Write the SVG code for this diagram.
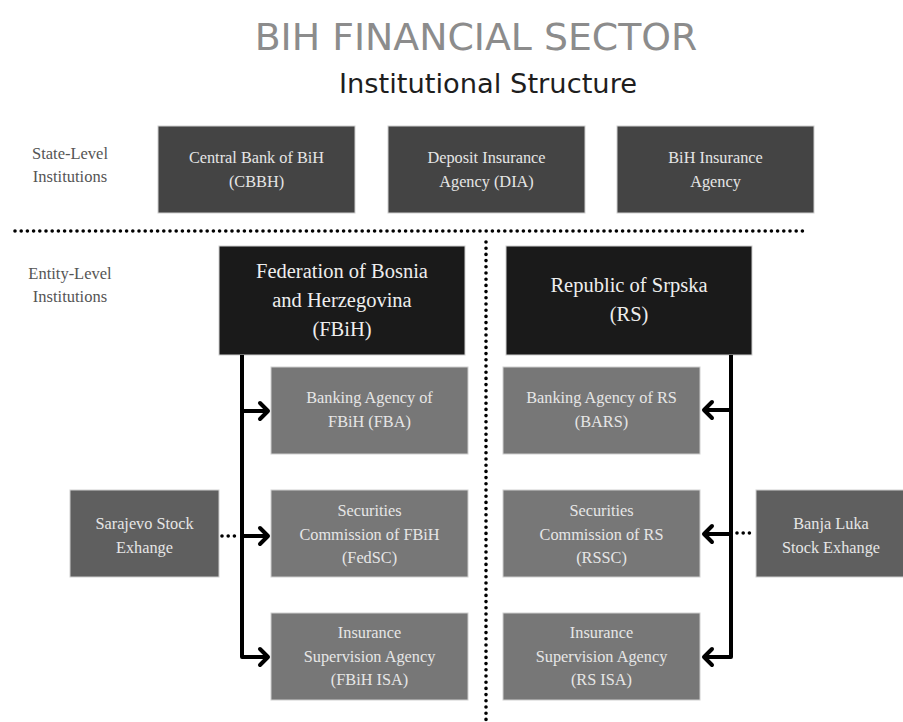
<svg xmlns="http://www.w3.org/2000/svg" width="903" height="722" viewBox="0 0 903 722">
  <defs>
    <style>
      .title { font-family: "DejaVu Sans", "Noto Sans", sans-serif; font-size: 37.8px; fill: #8c8c8c; text-anchor: middle; }
      .subtitle { font-family: "DejaVu Sans", "Noto Sans", sans-serif; font-size: 27.3px; fill: #1e1e1e; text-anchor: middle; }
      .side { font-family: "Liberation Serif", serif; font-size: 16.5px; fill: #555555; text-anchor: middle; }
      .lbl { font-family: "Liberation Serif", serif; font-size: 16.3px; fill: #e6e6e6; text-anchor: middle; }
      .big { font-family: "Liberation Serif", serif; font-size: 20.5px; fill: #eeeeee; text-anchor: middle; }
      .state { fill: #444444; stroke: #cfcfcf; stroke-width: 1; }
      .entity { fill: #1a1a1a; stroke: #cfcfcf; stroke-width: 1; }
      .agency { fill: #777777; stroke: #cfcfcf; stroke-width: 1; }
      .exch { fill: #5f5f5f; stroke: #cfcfcf; stroke-width: 1; }
      .dots { fill: none; stroke: #000; stroke-width: 3.6; stroke-linecap: round; stroke-dasharray: 0 6.2; }
      .link { fill: none; stroke: #000; stroke-width: 4; stroke-linejoin: round; }
      .head { fill: none; stroke: #000; stroke-width: 4; stroke-linecap: round; stroke-linejoin: round; }
    </style>
  </defs>

  <rect width="903" height="722" fill="#ffffff"/>

  <text class="title" x="476" y="50">BIH FINANCIAL SECTOR</text>
  <text class="subtitle" x="488" y="93">Institutional Structure</text>

  <g id="label-state">
    <text class="side" x="70" y="159">State-Level</text>
    <text class="side" x="70" y="182">Institutions</text>
  </g>
  <g id="label-entity">
    <text class="side" x="70" y="279">Entity-Level</text>
    <text class="side" x="70" y="302">Institutions</text>
  </g>

  <!-- state-level row -->
  <g id="cbbh">
    <rect class="state" x="158" y="126" width="197" height="87"/>
    <text class="lbl" x="256.5" y="163">Central Bank of BiH</text>
    <text class="lbl" x="256.5" y="187">(CBBH)</text>
  </g>
  <g id="dia">
    <rect class="state" x="388" y="126" width="197" height="87"/>
    <text class="lbl" x="486.5" y="163">Deposit Insurance</text>
    <text class="lbl" x="486.5" y="187">Agency (DIA)</text>
  </g>
  <g id="bih-insurance">
    <rect class="state" x="617" y="126" width="197" height="87"/>
    <text class="lbl" x="715.5" y="163">BiH Insurance</text>
    <text class="lbl" x="715.5" y="187">Agency</text>
  </g>

  <!-- entity heads -->
  <g id="fbih">
    <rect class="entity" x="219" y="246" width="246" height="109"/>
    <text class="big" x="342" y="278">Federation of Bosnia</text>
    <text class="big" x="342" y="307">and Herzegovina</text>
    <text class="big" x="342" y="336">(FBiH)</text>
  </g>
  <g id="rs">
    <rect class="entity" x="506" y="246" width="246" height="109"/>
    <text class="big" x="629" y="292">Republic of Srpska</text>
    <text class="big" x="629" y="321">(RS)</text>
  </g>

  <!-- FBiH agencies -->
  <g id="fba">
    <rect class="agency" x="271" y="367" width="197" height="87"/>
    <text class="lbl" x="369.5" y="403">Banking Agency of</text>
    <text class="lbl" x="369.5" y="427">FBiH (FBA)</text>
  </g>
  <g id="fedsc">
    <rect class="agency" x="271" y="490" width="197" height="87"/>
    <text class="lbl" x="369.5" y="516">Securities</text>
    <text class="lbl" x="369.5" y="540">Commission of FBiH</text>
    <text class="lbl" x="369.5" y="563">(FedSC)</text>
  </g>
  <g id="fbih-isa">
    <rect class="agency" x="271" y="613" width="197" height="87"/>
    <text class="lbl" x="369.5" y="638">Insurance</text>
    <text class="lbl" x="369.5" y="662">Supervision Agency</text>
    <text class="lbl" x="369.5" y="685">(FBiH ISA)</text>
  </g>
  <g id="sase">
    <rect class="exch" x="70" y="490" width="149" height="87"/>
    <text class="lbl" x="144.5" y="529">Sarajevo Stock</text>
    <text class="lbl" x="144.5" y="553">Exhange</text>
  </g>

  <!-- RS agencies -->
  <g id="bars">
    <rect class="agency" x="503" y="367" width="197" height="87"/>
    <text class="lbl" x="601.5" y="403">Banking Agency of RS</text>
    <text class="lbl" x="601.5" y="427">(BARS)</text>
  </g>
  <g id="rssc">
    <rect class="agency" x="503" y="490" width="197" height="87"/>
    <text class="lbl" x="601.5" y="516">Securities</text>
    <text class="lbl" x="601.5" y="540">Commission of RS</text>
    <text class="lbl" x="601.5" y="563">(RSSC)</text>
  </g>
  <g id="rs-isa">
    <rect class="agency" x="503" y="613" width="197" height="87"/>
    <text class="lbl" x="601.5" y="638">Insurance</text>
    <text class="lbl" x="601.5" y="662">Supervision Agency</text>
    <text class="lbl" x="601.5" y="685">(RS ISA)</text>
  </g>
  <g id="blse">
    <rect class="exch" x="756" y="490" width="150" height="87"/>
    <text class="lbl" x="831" y="529">Banja Luka</text>
    <text class="lbl" x="831" y="553">Stock Exhange</text>
  </g>

  <!-- connectors -->
  <g id="connectors">
    <!-- level dividers -->
    <line class="dots" x1="15" y1="231" x2="808" y2="231"/>
    <line class="dots" x1="486" y1="242" x2="486" y2="722"/>

    <!-- FBiH trunk and branches -->
    <path class="link" d="M242 355 V657 H268"/>
    <path class="link" d="M242 411 H268"/>
    <path class="link" d="M242 536 H268"/>
    <polyline class="head" points="260,403 268,411 260,419"/>
    <polyline class="head" points="260,528 268,536 260,544"/>
    <polyline class="head" points="260,649 268,657 260,665"/>
    <line class="dots" x1="222" y1="536" x2="240" y2="536"/>

    <!-- RS trunk and branches -->
    <path class="link" d="M731 355 V657 H704"/>
    <path class="link" d="M731 410 H704"/>
    <path class="link" d="M731 534 H704"/>
    <polyline class="head" points="712,402 704,410 712,418"/>
    <polyline class="head" points="712,526 704,534 712,542"/>
    <polyline class="head" points="712,649 704,657 712,665"/>
    <line class="dots" x1="737" y1="533" x2="754" y2="533"/>
  </g>
</svg>
